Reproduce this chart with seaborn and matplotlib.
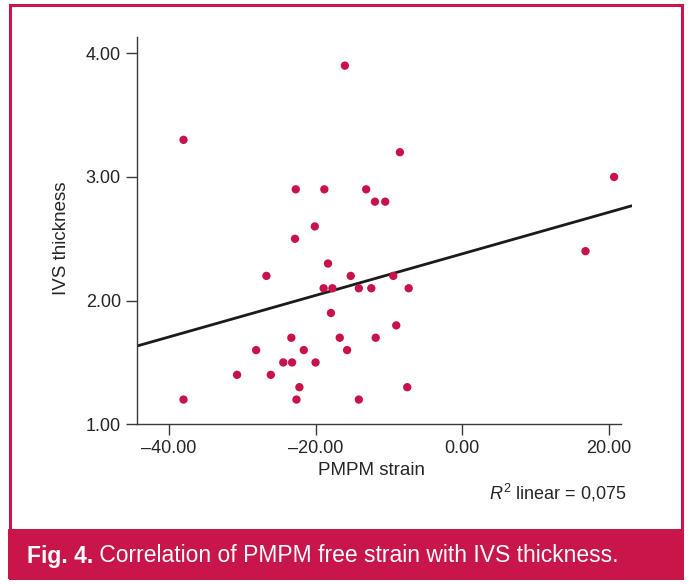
import matplotlib
matplotlib.use("Agg")
import matplotlib.pyplot as plt
import seaborn as sns
import pandas as pd
from matplotlib.patches import Rectangle

# ---- data ----
pmpm_strain = [-38.0, -22.7, -18.8, -20.1, -16.0, -8.5, -13.1, -11.9, -10.5,
               -22.8, -18.3, -26.7, -18.9, -17.7, -17.9, -23.3, -28.1, -21.6,
               -24.4, -23.2, -20.0, -30.7, -26.1, -22.2, -38.0, -22.6, -15.2,
               -9.4, -14.1, -12.4, -7.3, -9.0, -16.7, -11.8, -15.7, -7.5,
               -14.1, 20.7, 16.8]
ivs_thickness = [3.3, 2.9, 2.9, 2.6, 3.9, 3.2, 2.9, 2.8, 2.8,
                 2.5, 2.3, 2.2, 2.1, 2.1, 1.9, 1.7, 1.6, 1.6,
                 1.5, 1.5, 1.5, 1.4, 1.4, 1.3, 1.2, 1.2, 2.2,
                 2.2, 2.1, 2.1, 2.1, 1.8, 1.7, 1.7, 1.6, 1.3,
                 1.2, 3.0, 2.4]
x_ticks = [-40, -20, 0, 20]
x_tick_labels = ["\u201340.00", "\u201320.00", "0.00", "20.00"]
y_ticks = [1, 2, 3, 4]
y_tick_labels = ["1.00", "2.00", "3.00", "4.00"]
x_label = "PMPM strain"
y_label = "IVS thickness"
r2_text = r"$\mathit{R}^{2}$ linear = 0,075"
caption_bold = "Fig. 4."
caption_rest = " Correlation of PMPM free strain with IVS thickness."

df = pd.DataFrame({"strain": pmpm_strain, "ivs": ivs_thickness})

# ---- style ----
sns.set_theme(style="white")
plt.rcParams["font.family"] = ["Liberation Sans", "DejaVu Sans"]
plt.rcParams["mathtext.fontset"] = "custom"
plt.rcParams["mathtext.rm"] = "Liberation Sans"
plt.rcParams["mathtext.it"] = "Liberation Sans:italic"

W, H = 694, 585
DPI = 100
fig = plt.figure(figsize=(W / DPI, H / DPI), dpi=DPI)
fig.patch.set_facecolor("white")

CRIMSON = "#C8154A"
MARKER = "#C8124A"

def fx(px):
    return px / W

def fy(py):
    return 1 - py / H

# axes placement (pixels)
ax_l, ax_r, ax_t, ax_b = 137.3, 631.7, 36.7, 424.3
ax = fig.add_axes([fx(ax_l), fy(ax_b), (ax_r - ax_l) / W, (ax_b - ax_t) / H])
ax.set_facecolor("white")

XLIM = (-44.3, 23.1)
YLIM = (1.0, 4.134)
ax.set_xlim(*XLIM)
ax.set_ylim(*YLIM)

sns.scatterplot(data=df, x="strain", y="ivs", ax=ax, s=36, color=MARKER,
                edgecolor="none", linewidth=0, zorder=3)
ax.set_xlim(*XLIM)
sns.regplot(data=df, x="strain", y="ivs", ax=ax, scatter=False, ci=None,
            truncate=False, line_kws={"color": "#1b1b1b", "lw": 2.0, "zorder": 2})
ax.set_xlim(*XLIM)
ax.set_ylim(*YLIM)

# spines
for s in ["top", "right"]:
    ax.spines[s].set_visible(False)
for s in ["left", "bottom"]:
    ax.spines[s].set_color("#3a3a3a")
    ax.spines[s].set_linewidth(1.0)
ax.spines["bottom"].set_bounds(XLIM[0], 21.6)

ax.set_xticks(x_ticks)
ax.set_xticklabels(x_tick_labels)
ax.set_yticks(y_ticks)
ax.set_yticklabels(y_tick_labels)
ax.tick_params(axis="both", which="major", length=8.2, width=1.0,
               color="#3a3a3a", labelsize=13, labelcolor="#262626",
               bottom=True, left=True)
ax.tick_params(axis="x", pad=3.0)
ax.tick_params(axis="y", pad=3.6)

ax.set_xlabel(x_label, fontsize=13.5, color="#262626")
ax.set_ylabel(y_label, fontsize=13.5, color="#262626")
ax.xaxis.set_label_coords(0.473, -0.097)
ax.yaxis.set_label_coords(-0.136, 0.48)

fig.text(fx(627), fy(493), r2_text, ha="right", va="center", fontsize=13,
         color="#262626")

# frame + caption bar
fig.patches.append(Rectangle((fx(9.5), fy(578)), fx(682) - fx(9.5), fy(5) - fy(578),
                             transform=fig.transFigure, fill=False,
                             edgecolor=CRIMSON, linewidth=2.2, zorder=0))
fig.patches.append(Rectangle((fx(7.5), fy(578.5)), fx(683.5) - fx(7.5), fy(529) - fy(578.5),
                             transform=fig.transFigure, facecolor=CRIMSON,
                             edgecolor="none", zorder=1))

t1 = fig.text(fx(27), fy(562.5), caption_bold, ha="left", va="baseline",
              fontsize=16.5, fontweight="bold", color="white")
fig.canvas.draw()
bb = t1.get_window_extent(renderer=fig.canvas.get_renderer())
fig.text(bb.x1 / W, fy(562.5), caption_rest, ha="left", va="baseline",
         fontsize=16.5, color="white")

fig.savefig("out.png", dpi=DPI, facecolor="white")
